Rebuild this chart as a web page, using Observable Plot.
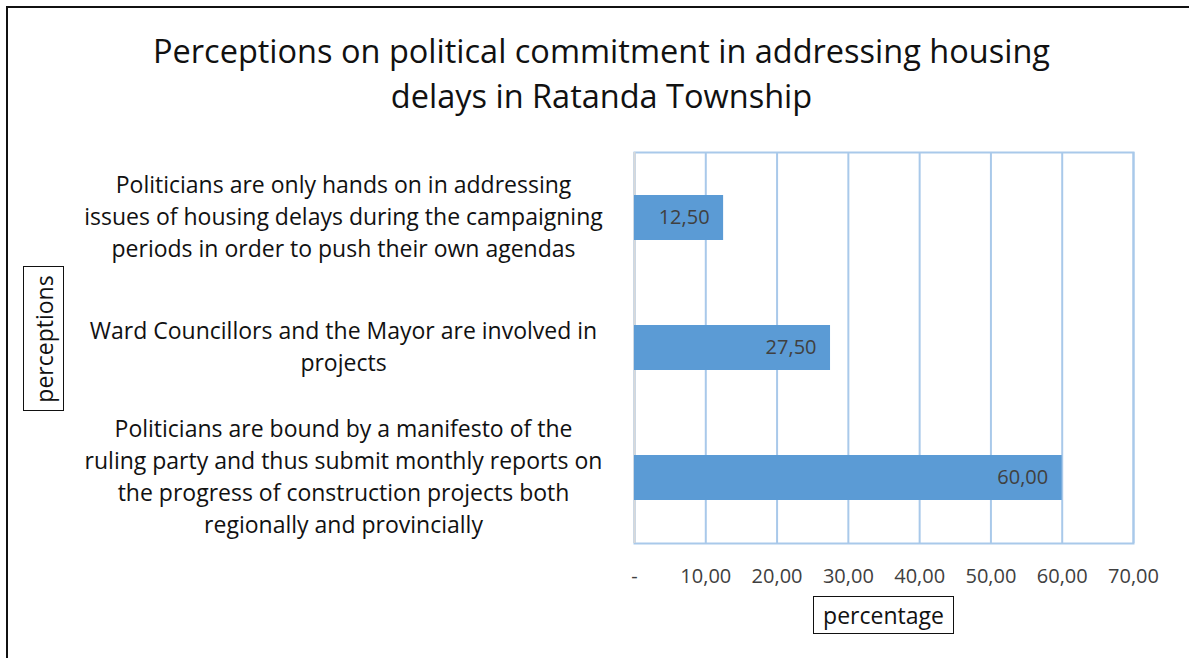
<!DOCTYPE html>
<html>
<head>
<meta charset="utf-8">
<script src="https://cdn.jsdelivr.net/npm/d3@7"></script>
<script src="https://cdn.jsdelivr.net/npm/@observablehq/plot@0.6"></script>
<style>
  html, body { margin: 0; padding: 0; background: #fff; }
  #wrap { position: relative; width: 1189px; height: 658px; overflow: hidden; font-family: "Open Sans", Lato, sans-serif; }
  #border { position: absolute; left: 6px; top: 6px; right: -10px; bottom: -10px; border-top: 2px solid #111; border-left: 2px solid #111; }
  #title { position: absolute; left: 0; width: 1203px; top: 28px; text-align: center; font-size: 32.5px; line-height: 45px; color: #111; }
  .box { position: absolute; border: 1.5px solid #111; background: #fff; color: #111; font-size: 23px; box-sizing: border-box; display: flex; align-items: center; justify-content: center; }
  #xlab { left: 813px; top: 596px; width: 141px; height: 38px; }
  #ylab { left: 23px; top: 266px; width: 41px; height: 145px; }
  #ylab span { transform: rotate(-90deg); white-space: nowrap; }
  #chart { position: absolute; left: 0; top: 0; }
</style>
</head>
<body>
<div id="wrap">
  <div id="chart"></div>
  <div id="border"></div>
  <div id="title">Perceptions on political commitment in addressing housing<br>delays in Ratanda Township</div>
  <div class="box" id="xlab">percentage</div>
  <div class="box" id="ylab"><span>perceptions</span></div>
</div>
<script>
const categories = [
  "Politicians are only hands on in addressing\nissues of housing delays during the campaigning\nperiods in order to push their own agendas",
  "Ward Councillors and the Mayor are involved in\nprojects",
  "Politicians are bound by a manifesto of the\nruling party and thus submit monthly reports on\nthe progress of construction projects both\nregionally and provincially"
];
const values = [12.5, 27.5, 60.0];
const xTicks = [0, 10, 20, 30, 40, 50, 60, 70];

const data = categories.map((c, i) => ({category: c, value: values[i]}));
const fmt = d => d === 0 ? "-" : d.toFixed(2).replace(".", ",");

const gridColor = "#a9c9ea";

const plot = Plot.plot({
  width: 1189,
  height: 658,
  marginLeft: 634,
  marginRight: 56,
  marginTop: 152,
  marginBottom: 115,
  style: {fontFamily: "'Open Sans', Lato, sans-serif", background: "transparent"},
  x: {domain: [0, 70], ticks: xTicks, tickFormat: fmt},
  y: {domain: categories, paddingInner: 0.655, paddingOuter: 0.3275},
  marks: [
    Plot.gridX(xTicks, {stroke: gridColor, strokeOpacity: 1, strokeWidth: 2}),
    Plot.frame({stroke: gridColor, strokeWidth: 2}),
    Plot.ruleX([0], {stroke: "#d9d9d9", strokeWidth: 2}),
    Plot.barX(data, {x: "value", y: "category", fill: "#5b9bd5"}),
    Plot.text(data, {x: "value", y: "category", text: d => fmt(d.value), textAnchor: "end", dx: -14, fill: "#404040", fontSize: 20}),
    Plot.axisX(xTicks, {tickSize: 0, tickPadding: 25, fontSize: 20, fill: "#404040", label: null, tickFormat: fmt}),
    Plot.text(data, {y: "category", text: "category", frameAnchor: "left", dx: -291, dy: -3, textAnchor: "middle", lineHeight: 1.39, fontSize: 23, fill: "#111"}),
    Plot.axisY({ticks: [], label: null, tickSize: 0})
  ]
});
document.getElementById("chart").appendChild(plot);
</script>
</body>
</html>
